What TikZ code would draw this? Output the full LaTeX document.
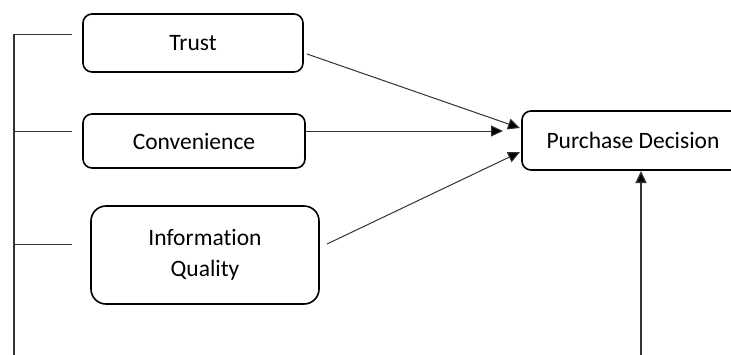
\documentclass[tikz,border=0pt]{standalone}
\usepackage{fontspec}
\setmainfont[Ligatures=NoCommon]{Carlito}
\usetikzlibrary{arrows.meta}
\begin{document}
\begin{tikzpicture}[x=1pt,y=-1pt,
 box/.style={draw, line width=1.6pt, rounded corners=9pt, inner sep=0pt,
   font=\fontsize{23.5}{32}\selectfont, align=center},
 link/.style={line width=1pt, draw=black!80},
 tip/.style={-{Triangle[length=12pt,width=11pt,fill=black]}}]
\useasboundingbox (0,0) rectangle (731,354);
\clip (0,0) rectangle (731,354);
% boxes
\node[box, minimum width=220pt, minimum height=58pt] (trust) at (193,43) {Trust};
\node[box, minimum width=222pt, minimum height=54pt] (conv) at (194,141) {Convenience};
\node[box, rounded corners=15pt, minimum width=228pt, minimum height=98pt] (iq) at (205,255) {Information\\[-1pt]Quality};
\node[box, minimum width=222pt, minimum height=59pt] (pd) at (633,140.5) {Purchase Decision};
% coordinates
\coordinate (top) at (14,34);
\coordinate (bot) at (14,360);
\coordinate (s1) at (72,34);
\coordinate (m2) at (14,131);
\coordinate (s2) at (72,131);
\coordinate (m3) at (14,244);
\coordinate (s3) at (72,244);
\coordinate (t0) at (307,54);
\coordinate (t1) at (520,128);
\coordinate (c0) at (306,131);
\coordinate (c1) at (503,131);
\coordinate (q0) at (327,244);
\coordinate (q1) at (520,152);
\coordinate (v0) at (641,360);
\coordinate (v1) at (641,171);
% left bracket
\draw[link, line width=1.3pt] (top) -- (bot);
\draw[link] (top) -- (s1);
\draw[link] (m2) -- (s2);
\draw[link] (m3) -- (s3);
% arrows
\draw[link, tip] (t0) -- (t1);
\draw[link, tip] (c0) -- (c1);
\draw[link, tip] (q0) -- (q1);
\draw[link, line width=1.3pt, tip] (v0) -- (v1);
\end{tikzpicture}
\end{document}
